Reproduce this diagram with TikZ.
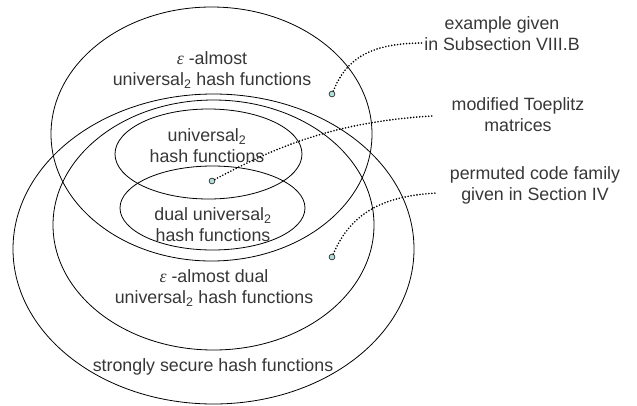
\documentclass[tikz,border=0pt]{standalone}
\usepackage{fontspec}
\setmainfont{Liberation Sans}
\newfontfamily\epsfont{Liberation Serif}
\definecolor{txt}{RGB}{55,55,55}
\definecolor{dotfill}{RGB}{178,222,222}
\begin{document}
\begin{tikzpicture}[x=1pt,y=-1pt,
  set/.style={draw=black, line width=0.8pt},
  lbl/.style={text=txt, align=center, font=\fontsize{17.8}{21}\selectfont, inner sep=0pt},
  pin/.style={circle, draw=black!80, fill=dotfill, line width=0.7pt, minimum size=5.8pt, inner sep=0pt},
  lead/.style={line width=1.8pt, line cap=round, dash pattern=on 0pt off 3pt}]
\useasboundingbox (0,0) rectangle (637,405);
% sets
\draw[set] (211.5,134) ellipse [x radius=160.5pt, y radius=127pt];
\draw[set] (213.5,249) ellipse [x radius=200.5pt, y radius=155pt];
\draw[set] (213.5,225) ellipse [x radius=160.5pt, y radius=125pt];
\draw[set] (208.5,154) ellipse [x radius=93.5pt, y radius=45pt];
\draw[set] (212.5,208) ellipse [x radius=92.5pt, y radius=42pt];
% labels
\node[lbl] (eau) at (212,70) {{\epsfont\itshape ε} -almost\\universal\textsubscript{2} hash functions};
\node[lbl] (u2) at (207,145.5) {universal\textsubscript{2}\\hash functions};
\node[lbl] (du2) at (213,225) {dual universal\textsubscript{2}\\hash functions};
\node[lbl] (eadu) at (214,288) {{\epsfont\itshape ε} -almost dual\\universal\textsubscript{2} hash functions};
\node[lbl] (ss) at (213,367) {strongly secure hash functions};
\node[lbl] (ex) at (502,33.5) {example given\\in Subsection VIII.B};
\node[lbl] (mt) at (518,115) {modified Toeplitz\\matrices};
\node[lbl] (pc) at (535,185) {permuted code family\\given in Section IV};
% pins
\node[pin] (pA) at (212,181) {};
\node[pin] (pB) at (332,94) {};
\node[pin] (pC) at (332,257) {};
\coordinate (eB) at (424,43);
\coordinate (eA) at (432,116);
\coordinate (eC) at (437,193);
\draw[lead] (pB) .. controls (346,60) and (368,43) .. (eB);
\draw[lead] (pA) .. controls (270,150) and (330,122) .. (eA);
\draw[lead] (pC) .. controls (350,215) and (380,196) .. (eC);
\end{tikzpicture}
\end{document}
